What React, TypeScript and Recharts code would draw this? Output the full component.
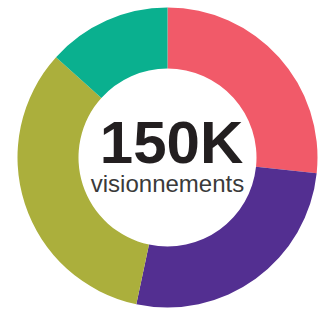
import { PieChart, Pie, Cell } from 'recharts'

// views per segment, in thousands (clockwise from top)
const segments = ['A', 'B', 'C', 'D']
const views = [40, 40, 50, 20]
const colors = ['#f15a69', '#532f91', '#abaf3c', '#0ab08f']
const totalLabel = '150K'
const caption = 'visionnements'

export default function App() {
  const data = segments.map((name, i) => ({ name, value: views[i] }))

  return (
    <div style={{ position: 'fixed', top: 0, left: 0, width: 320, height: 310, background: '#fff' }}>
      <PieChart width={320} height={310} margin={{ top: 0, right: 0, bottom: 0, left: 0 }}>
        <Pie
          data={data}
          dataKey="value"
          cx={167.5}
          cy={157.5}
          innerRadius={89}
          outerRadius={150}
          startAngle={90}
          endAngle={-270}
          stroke="none"
          isAnimationActive={false}
        >
          {data.map((entry, index) => (
            <Cell key={`cell-${index}`} fill={colors[index]} />
          ))}
        </Pie>
        <text
          x={171.5}
          y={163}
          textAnchor="middle"
          fontFamily="'Liberation Sans', Arial, sans-serif"
          fontWeight={700}
          fontSize={60}
          fill="#231f20"
        >
          {totalLabel}
        </text>
        <text
          x={167.5}
          y={191.5}
          textAnchor="middle"
          fontFamily="'Liberation Sans', Arial, sans-serif"
          fontSize={24}
          fill="#3a3a3a"
        >
          {caption}
        </text>
      </PieChart>
    </div>
  )
}
